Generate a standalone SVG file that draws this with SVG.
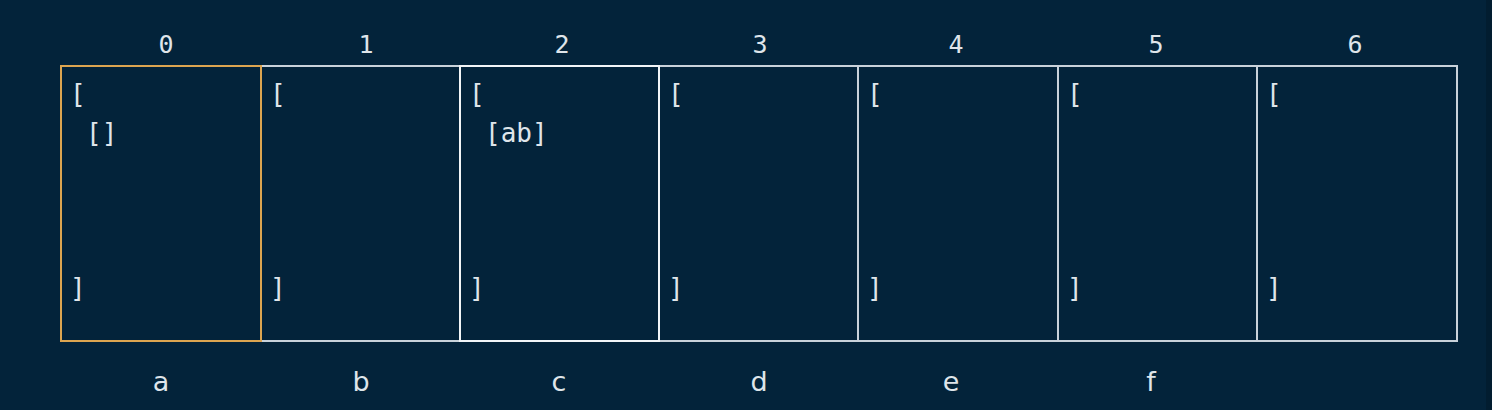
<svg xmlns="http://www.w3.org/2000/svg" width="1492" height="410" viewBox="0 0 1492 410">
<style>
.cell{fill:none;stroke:#c9d2da;stroke-width:2}
.hot{stroke:#dda550}
.bright{stroke:#f2f5f7}
.t{font-family:"DejaVu Sans Mono","Liberation Mono",monospace;fill:#dfe5ea;font-size:26px}
.idx{font-family:"DejaVu Sans Mono","Liberation Mono",monospace;fill:#dfe5ea;font-size:25px;text-anchor:middle}
.lbl{font-family:"DejaVu Sans","Liberation Sans",sans-serif;fill:#dfe5ea;font-size:27px;text-anchor:middle}
</style>
<rect width="1492" height="410" fill="#03233a"/>
<rect x="1486" y="0" width="6" height="410" fill="#021d30"/>
<g id="indices">
<text class="idx" x="166" y="53">0</text>
<text class="idx" x="366" y="53">1</text>
<text class="idx" x="562" y="53">2</text>
<text class="idx" x="760" y="53">3</text>
<text class="idx" x="956" y="53">4</text>
<text class="idx" x="1156" y="53">5</text>
<text class="idx" x="1355" y="53">6</text>
</g>
<g id="cell1"><rect class="cell" x="261" y="66" width="199" height="275"/><text class="t" x="270" y="103">[</text><text class="t" x="270" y="297">]</text></g>
<g id="cell3"><rect class="cell" x="659" y="66" width="199" height="275"/><text class="t" x="668" y="103">[</text><text class="t" x="668" y="297">]</text></g>
<g id="cell4"><rect class="cell" x="858" y="66" width="200" height="275"/><text class="t" x="867" y="103">[</text><text class="t" x="867" y="297">]</text></g>
<g id="cell5"><rect class="cell" x="1058" y="66" width="199" height="275"/><text class="t" x="1067" y="103">[</text><text class="t" x="1067" y="297">]</text></g>
<g id="cell6"><rect class="cell" x="1257" y="66" width="200" height="275"/><text class="t" x="1266" y="103">[</text><text class="t" x="1266" y="297">]</text></g>
<g id="cell2"><rect class="cell bright" x="460" y="66" width="199" height="275"/><text class="t" x="469" y="103">[</text><text class="t" x="485" y="142">[ab]</text><text class="t" x="469" y="297">]</text></g>
<g id="cell0"><rect class="cell hot" x="61" y="66" width="200" height="275"/><text class="t" x="70" y="103">[</text><text class="t" x="86" y="142">[]</text><text class="t" x="70" y="297">]</text></g>
<g id="labels">
<text class="lbl" x="161" y="391">a</text>
<text class="lbl" x="361" y="391">b</text>
<text class="lbl" x="559" y="391">c</text>
<text class="lbl" x="759" y="391">d</text>
<text class="lbl" x="951" y="391">e</text>
<text class="lbl" x="1151" y="391">f</text>
</g>
<g id="connectors"/>
</svg>
